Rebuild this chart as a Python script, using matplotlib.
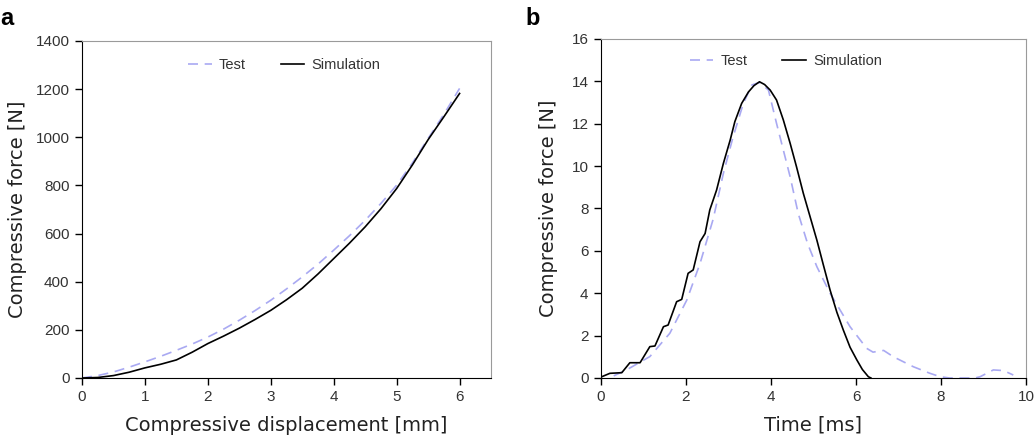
import matplotlib.pyplot as plt

plt.rcParams["font.family"] = ["Liberation Sans", "DejaVu Sans"]

TEST_COLOR = "#a9a9f2"

# panel a: force [N] vs displacement [mm]
disp = [0, 0.25, 0.5, 0.75, 1.0, 1.25, 1.5, 1.75, 2.0, 2.25, 2.5, 2.75, 3.0,
        3.25, 3.5, 3.75, 4.0, 4.25, 4.5, 4.75, 5.0, 5.25, 5.5, 5.75, 6.0]
force_test = [0, 10, 25, 45, 67, 90, 115, 141, 170, 203, 240, 280, 323,
              370, 420, 473, 531, 591, 655, 725, 801, 893, 995, 1095, 1203]
force_sim = [0, 2, 10, 24, 42, 57, 75, 107, 143, 174, 207, 243, 281,
             325, 373, 432, 496, 560, 628, 703, 787, 885, 990, 1085, 1182]

# panel b: force [N] vs time [ms]
time_test = [0.3, 0.6, 1.15, 1.62, 2.02, 2.33, 2.64, 2.88, 3.11, 3.35, 3.55,
             3.73, 3.94, 4.13, 4.29, 4.45, 4.64, 4.86, 5.08, 5.39, 5.86, 6.25, 6.4,
             6.65, 6.88, 7.35, 7.74, 7.98, 8.2, 8.8, 8.92, 9.23, 9.47, 9.7]
force_test_b = [0.1, 0.38, 1.01, 2.11, 3.68, 5.4, 7.5, 9.66, 11.39, 12.96, 13.83,
                13.95, 13.59, 12.02, 10.76, 9.5, 7.77, 6.35, 5.25, 4.0, 2.42, 1.4, 1.22,
                1.3, 1.0, 0.53, 0.22, 0.06, 0, 0, 0.06, 0.38, 0.35, 0.14]
time_sim = [0.02, 0.21, 0.49, 0.68, 0.92, 1.15, 1.27, 1.47, 1.58, 1.78, 1.90,
            2.05, 2.17, 2.33, 2.45, 2.56, 2.72, 2.88, 3.04, 3.15, 3.31, 3.47,
            3.60, 3.73, 3.85, 3.98, 4.13, 4.29, 4.45, 4.60, 4.76, 4.92, 5.08,
            5.23, 5.39, 5.55, 5.70, 5.86, 6.02, 6.15, 6.29, 6.35]
force_sim_b = [0.06, 0.22, 0.25, 0.72, 0.72, 1.48, 1.51, 2.42, 2.5, 3.6, 3.71,
               4.94, 5.1, 6.43, 6.82, 7.93, 8.87, 10.13, 11.23, 12.1, 12.96, 13.5,
               13.8, 13.98, 13.85, 13.59, 13.12, 12.18, 11.08, 9.97, 8.72, 7.61,
               6.5, 5.35, 4.15, 3.1, 2.27, 1.45, 0.85, 0.4, 0.06, 0]

fig = plt.figure(figsize=(10.34, 4.46), dpi=100)
ax_a = fig.add_axes([0.0793, 0.1525, 0.3956, 0.7556])
ax_b = fig.add_axes([0.5812, 0.1525, 0.4111, 0.7601])

label_font = dict(family=["DejaVu Sans"], fontsize=14, color="#222222")


def style(ax, legend_x, legend_y):
    for side in ["top", "right"]:
        ax.spines[side].set_color("#9a9a9a")
    for side in ["left", "bottom"]:
        ax.spines[side].set_color("black")
    ax.tick_params(direction="out", length=5, width=1, pad=4, labelsize=11, labelcolor="#333333")
    ax.legend(loc="center", bbox_to_anchor=(legend_x, legend_y), ncol=2,
              frameon=False, fontsize=10.5, handlelength=1.6, handletextpad=0.5,
              columnspacing=2.4, labelcolor="#333333")


ax_a.plot(disp, force_test, color=TEST_COLOR, lw=1.2, ls=(0, (6, 4)), label="Test")
ax_a.plot(disp, force_sim, color="black", lw=1.2, label="Simulation")
ax_a.set_xlim(0, 6.5)
ax_a.set_ylim(0, 1400)
ax_a.set_xticks(range(0, 7))
ax_a.set_yticks(range(0, 1401, 200))
ax_a.set_xlabel("Compressive displacement [mm]", labelpad=8, **label_font)
ax_a.set_ylabel("Compressive force [N]", labelpad=6, **label_font)
style(ax_a, 0.495, 0.929)

ax_b.plot(time_test, force_test_b, color=TEST_COLOR, lw=1.2, ls=(0, (6, 4)), label="Test")
ax_b.plot(time_sim, force_sim_b, color="black", lw=1.2, label="Simulation")
ax_b.set_xlim(0, 10)
ax_b.set_ylim(0, 16)
ax_b.set_xticks(range(0, 11, 2))
ax_b.set_yticks(range(0, 17, 2))
ax_b.set_xlabel("Time [ms]", labelpad=8, **label_font)
ax_b.set_ylabel("Compressive force [N]", labelpad=10, **label_font)
style(ax_b, 0.435, 0.935)

fig.text(0.0, 0.985, "a", fontsize=17, fontweight="bold", va="top")
fig.text(0.508, 0.985, "b", fontsize=17, fontweight="bold", va="top")

fig.savefig("out.png", dpi=100)
